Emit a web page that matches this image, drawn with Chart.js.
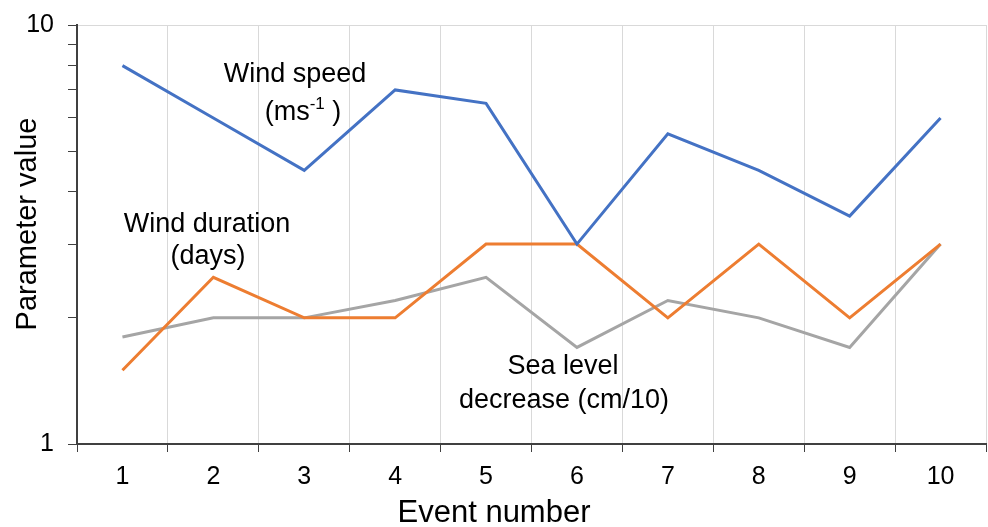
<!DOCTYPE html>
<html><head><meta charset="utf-8">
<script src="https://cdn.jsdelivr.net/npm/chart.js@4/dist/chart.umd.min.js"></script>
<style>html,body{margin:0;padding:0;background:#fff}#wrap{width:988px;height:527px}</style>
</head><body><div id="wrap"><canvas id="c" width="988" height="527"></canvas></div>
<script>
const categories = ['1','2','3','4','5','6','7','8','9','10'];
const windSpeed = [8, 6, 4.5, 7, 6.5, 3, 5.5, 4.5, 3.5, 6];
const windDuration = [1.5, 2.5, 2, 2, 3, 3, 2, 3, 2, 3];
const seaLevel = [1.8, 2, 2, 2.2, 2.5, 1.7, 2.2, 2, 1.7, 3];
const yTickValues = [1, 2, 3, 4, 5, 6, 7, 8, 9, 10];
const yLabelTicks = [1, 10];

const FONT = "'Liberation Sans', Arial, sans-serif";
const AF = 27;

const labelPlugin = {
  id: 'labels',
  afterDatasetsDraw(chart) {
    const ctx = chart.ctx;
    ctx.save();
    ctx.fillStyle = '#000';
    ctx.textAlign = 'center';
    ctx.textBaseline = 'middle';
    ctx.font = AF + "px " + FONT;
    ctx.fillText('Wind speed', 295, 75);
    const a = '(ms', b = '-1', c = ' )';
    const wa = ctx.measureText(a).width, wc = ctx.measureText(c).width;
    ctx.font = "17px " + FONT;
    const wb = ctx.measureText(b).width;
    let x = 303 - (wa + wb + wc) / 2;
    ctx.textAlign = 'left';
    ctx.font = AF + "px " + FONT;
    ctx.fillText(a, x, 113);
    ctx.font = "17px " + FONT;
    ctx.fillText(b, x + wa, 104);
    ctx.font = AF + "px " + FONT;
    ctx.fillText(c, x + wa + wb, 113);
    ctx.textAlign = 'center';
    ctx.fillText('Wind duration', 207, 225);
    ctx.fillText('(days)', 208, 257);
    ctx.fillText('Sea level', 563, 367);
    ctx.fillText('decrease (cm/10)', 564, 401);
    // axis titles
    ctx.textBaseline = 'alphabetic';
    ctx.font = "31px " + FONT;
    ctx.fillText('Event number', 494, 522);
    ctx.translate(36, 224);
    ctx.rotate(-Math.PI / 2);
    ctx.font = "29px " + FONT;
    ctx.fillText('Parameter value', 0, 0);
    ctx.restore();
  }
};

new Chart(document.getElementById('c'), {
  type: 'line',
  data: {
    labels: categories,
    datasets: [
      {label: 'Wind speed', data: windSpeed, borderColor: '#4472C4', borderWidth: 3, pointRadius: 0, tension: 0, fill: false},
      {label: 'Wind duration', data: windDuration, borderColor: '#ED7D31', borderWidth: 3, pointRadius: 0, tension: 0, fill: false},
      {label: 'Sea level decrease', data: seaLevel, borderColor: '#A5A5A5', borderWidth: 3, pointRadius: 0, tension: 0, fill: false}
    ]
  },
  options: {
    responsive: false,
    animation: false,
    layout: {padding: {left: 0, right: 2, top: 25, bottom: 0}},
    plugins: {legend: {display: false}, tooltip: {enabled: false}},
    scales: {
      x: {
        offset: true,
        afterFit: s => { s.height = 83; s.paddingLeft = 0; s.paddingRight = 0; },
        grid: {offset: true, color: '#D9D9D9', lineWidth: 1, tickColor: '#404040', tickLength: 8, drawTicks: true},
        border: {color: '#404040', width: 2},
        ticks: {color: '#000', font: {family: FONT, size: 25}, padding: 10, maxRotation: 0},
        title: {display: false, text: 'Event number'}
      },
      y: {
        type: 'logarithmic',
        min: 1, max: 10,
        afterFit: s => { s.width = 77; s.paddingTop = 0; s.paddingBottom = 0; },
        afterBuildTicks: scale => { scale.ticks = yTickValues.map(v => ({value: v})); },
        grid: {
          color: ctx => (ctx.tick && ctx.tick.value === 10) ? '#D9D9D9' : 'rgba(0,0,0,0)',
          tickColor: '#404040', tickLength: 9, lineWidth: 1
        },
        border: {color: '#404040', width: 2},
        ticks: {
          color: '#000', font: {family: FONT, size: 25}, padding: 14, autoSkip: false,
          callback: v => yLabelTicks.includes(v) ? String(v) : ''
        },
        title: {display: false, text: 'Parameter value'}
      }
    }
  },
  plugins: [labelPlugin]
});
</script></body></html>
